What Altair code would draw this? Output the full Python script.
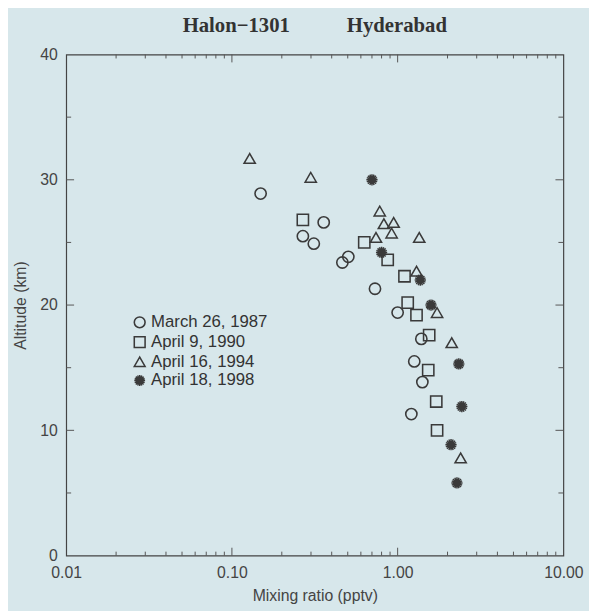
import altair as alt
import pandas as pd

# ---- data ----
series_names = ["March 26, 1987", "April 9, 1990", "April 16, 1994", "April 18, 1998"]

circ_x = [0.149, 0.268, 0.312, 0.358, 0.464, 0.504, 0.73, 1.00, 1.39, 1.26, 1.41, 1.21]
circ_y = [28.9, 25.5, 24.9, 26.6, 23.4, 23.85, 21.3, 19.4, 17.3, 15.5, 13.85, 11.3]

sq_x = [0.268, 0.629, 0.871, 1.10, 1.15, 1.30, 1.55, 1.53, 1.71, 1.73]
sq_y = [26.8, 25.0, 23.6, 22.3, 20.2, 19.2, 17.6, 14.8, 12.3, 10.0]

tri_x = [0.128, 0.299, 0.78, 0.826, 0.946, 0.92, 0.74, 1.35, 1.30, 1.73, 2.12, 2.40]
tri_y = [31.7, 30.2, 27.5, 26.5, 26.6, 25.75, 25.4, 25.4, 22.7, 19.4, 17.0, 7.8]

ast_x = [0.70, 0.80, 1.37, 1.59, 2.34, 2.44, 2.10, 2.28]
ast_y = [30.0, 24.2, 22.0, 20.0, 15.3, 11.9, 8.85, 5.8]

x_tick_labels = [0.01, 0.1, 1, 10]
y_tick_labels = [0, 10, 20, 30, 40]
x_major_ticks = [0.1, 1]
x_minor_ticks = [m * d for d in [0.01, 0.1, 1] for m in range(2, 10)]
y_major_ticks = [10, 20, 30]
y_minor_ticks = [5, 15, 25, 35]

rows = []
for name, xs, ys in zip(series_names, [circ_x, sq_x, tri_x, ast_x], [circ_y, sq_y, tri_y, ast_y]):
    for a, b in zip(xs, ys):
        rows.append({"ratio": a, "alt": b, "date": name})
df = pd.DataFrame(rows)

W, H = 504, 508
INK = "#3a3a3a"
ASTER = ("M-1,0L1,0M0,-1L0,1M-0.72,-0.72L0.72,0.72M-0.72,0.72L0.72,-0.72"
         "M-0.38,-0.92L0.38,0.92M0.38,-0.92L-0.38,0.92M-0.92,-0.38L0.92,0.38M-0.92,0.38L0.92,-0.38")

xscale = alt.Scale(type="log", domain=[0.01, 10], nice=False)
yscale = alt.Scale(domain=[0, 40], nice=False, zero=False)

xaxis = alt.Axis(values=x_tick_labels, format=".2f", title="Mixing ratio (pptv)",
                 ticks=False, domain=False, grid=False, labelPadding=9, titlePadding=8,
                 labelFlush=False, labelFontSize=16, titleFontSize=16,
                 labelColor="#444", titleColor="#444", labelFont="Liberation Sans",
                 titleFont="Liberation Sans", titleFontWeight="normal")
yaxis = alt.Axis(values=y_tick_labels, title="Altitude (km)", ticks=False, domain=False,
                 grid=False, labelPadding=9, titlePadding=11, labelFlush=False,
                 labelFontSize=16, titleFontSize=16, labelColor="#444", titleColor="#444",
                 labelFont="Liberation Sans", titleFont="Liberation Sans",
                 titleFontWeight="normal")

points = alt.Chart(df).mark_point(filled=False, size=130, opacity=1).encode(
    x=alt.X("ratio:Q", scale=xscale, axis=xaxis),
    y=alt.Y("alt:Q", scale=yscale, axis=yaxis),
    shape=alt.Shape("date:N",
                    scale=alt.Scale(domain=series_names,
                                    range=["circle", "square", "triangle-up", ASTER]),
                    legend=alt.Legend(title=None, orient="none", legendX=66, legendY=263,
                                      labelFontSize=17, labelFont="Liberation Sans",
                                      labelColor="#333", symbolSize=120, symbolStrokeWidth=1.5,
                                      symbolStrokeColor=INK, symbolFillColor="transparent",
                                      rowPadding=1, labelOffset=3, symbolOffset=0, padding=0)),
    strokeWidth=alt.StrokeWidth("date:N",
                                scale=alt.Scale(domain=series_names, range=[1.6, 1.5, 1.5, 1.1]),
                                legend=None),
    color=alt.value(INK),
)


def xticks(vals, y0, y1):
    return alt.Chart(pd.DataFrame({"ratio": vals})).mark_rule(color="#555", strokeWidth=1).encode(
        x=alt.X("ratio:Q", scale=xscale, axis=xaxis), y=alt.value(y0), y2=alt.value(y1))


def yticks(vals, x0, x1):
    return alt.Chart(pd.DataFrame({"alt": vals})).mark_rule(color="#555", strokeWidth=1).encode(
        y=alt.Y("alt:Q", scale=yscale, axis=yaxis), x=alt.value(x0), x2=alt.value(x1))


ticks = [
    xticks(x_major_ticks, H, H - 8), xticks(x_major_ticks, 0, 8),
    xticks(x_minor_ticks, H, H - 4), xticks(x_minor_ticks, 0, 4),
    yticks(y_major_ticks, 0, 8), yticks(y_major_ticks, W, W - 8),
    yticks(y_minor_ticks, 0, 5), yticks(y_minor_ticks, W, W - 5),
]

chart = alt.layer(points, *ticks).properties(
    width=W, height=H,
    title=alt.TitleParams("Halon\u22121301" + "\u00a0" * 11 + "Hyderabad",
                          font="Liberation Serif", fontSize=21, fontWeight="bold", color="#333",
                          anchor="middle", offset=11),
    autosize=alt.AutoSizeParams(type="none"),
    padding={"left": 59, "top": 43, "right": 26, "bottom": 52},
    background="#d7e7eb",
).configure_view(stroke="#444", strokeWidth=1.2)

chart.save("out.html", embed_options={"renderer": "svg", "actions": False})
